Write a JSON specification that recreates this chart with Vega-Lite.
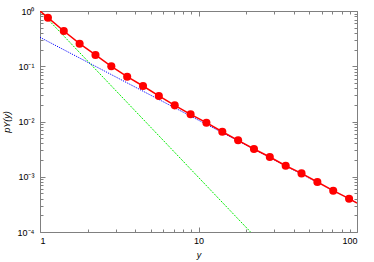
{
  "$schema": "https://vega.github.io/schema/vega-lite/v6.json",
  "width": 317,
  "height": 221,
  "autosize": "none",
  "padding": {"left": 40, "top": 11, "right": 17, "bottom": 30},
  "config": {
    "view": {"stroke": "#808080", "strokeWidth": 1},
    "axis": {"grid": false, "domain": false, "tickColor": "#808080", "labelFont": "Liberation Sans", "labelFontSize": 9, "labelColor": "#000000", "titleFont": "Liberation Sans", "titleFontSize": 9, "titleFontWeight": "normal", "titleFontStyle": "italic", "titleColor": "#000000"}
  },
  "datasets": {
    "pts": [
      {"y": 1.122, "p": 0.757}, {"y": 1.413, "p": 0.435}, {"y": 1.778, "p": 0.256}, {"y": 2.239, "p": 0.160},
      {"y": 2.818, "p": 0.0998}, {"y": 3.548, "p": 0.0647}, {"y": 4.467, "p": 0.0439}, {"y": 5.623, "p": 0.0290},
      {"y": 7.079, "p": 0.0196}, {"y": 8.913, "p": 0.0135}, {"y": 11.22, "p": 0.00951}, {"y": 14.13, "p": 0.00653},
      {"y": 17.78, "p": 0.00456}, {"y": 22.39, "p": 0.00318}, {"y": 28.18, "p": 0.00228}, {"y": 35.48, "p": 0.00158},
      {"y": 44.67, "p": 0.00115}, {"y": 56.23, "p": 0.000803}, {"y": 70.79, "p": 0.000560}, {"y": 89.13, "p": 0.000401}
    ],
    "curve": [
      {"y": 1, "p": 1}, {"y": 1.122, "p": 0.757}, {"y": 1.413, "p": 0.435}, {"y": 1.778, "p": 0.256}, {"y": 2.239, "p": 0.160},
      {"y": 2.818, "p": 0.0998}, {"y": 3.548, "p": 0.0647}, {"y": 4.467, "p": 0.0439}, {"y": 5.623, "p": 0.0290},
      {"y": 7.079, "p": 0.0196}, {"y": 8.913, "p": 0.0135}, {"y": 11.22, "p": 0.00951}, {"y": 14.13, "p": 0.00653},
      {"y": 17.78, "p": 0.00456}, {"y": 22.39, "p": 0.00318}, {"y": 28.18, "p": 0.00228}, {"y": 35.48, "p": 0.00158},
      {"y": 44.67, "p": 0.00115}, {"y": 56.23, "p": 0.000803}, {"y": 70.79, "p": 0.000560}, {"y": 89.13, "p": 0.000401},
      {"y": 100, "p": 0.000335}
    ],
    "green": [{"y": 1, "p": 1}, {"y": 21.3, "p": 0.0001}],
    "blue": [{"y": 1, "p": 0.334}, {"y": 100, "p": 0.000334}]
  },
  "layer": [
    {
      "data": {"name": "green"},
      "mark": {"type": "line", "color": "#00ee00", "strokeWidth": 1, "strokeDash": [2, 1.2], "clip": true},
      "encoding": {
        "x": {"field": "y", "type": "quantitative", "scale": {"type": "log", "domain": [1, 100], "nice": false},
              "axis": {"orient": "top", "values": [1, 10, 100], "labels": false, "tickSize": -5, "title": null}},
        "y": {"field": "p", "type": "quantitative", "scale": {"type": "log", "domain": [0.0001, 1], "nice": false},
              "axis": {"orient": "right", "values": [0.0001, 0.001, 0.01, 0.1, 1], "labels": false, "tickSize": -5, "title": null}}
      }
    },
    {
      "data": {"name": "blue"},
      "mark": {"type": "line", "color": "#0000ff", "strokeWidth": 1, "strokeDash": [1.2, 1.2], "clip": true},
      "encoding": {
        "x": {"field": "y", "type": "quantitative",
              "axis": {"orient": "top", "values": [2,3,4,5,6,7,8,9,20,30,40,50,60,70,80,90], "labels": false, "tickSize": -3, "title": null}},
        "y": {"field": "p", "type": "quantitative",
              "axis": {"orient": "right", "values": [0.0002,0.0003,0.0004,0.0005,0.0006,0.0007,0.0008,0.0009,0.002,0.003,0.004,0.005,0.006,0.007,0.008,0.009,0.02,0.03,0.04,0.05,0.06,0.07,0.08,0.09,0.2,0.3,0.4,0.5,0.6,0.7,0.8,0.9], "labels": false, "tickSize": -3, "title": null}}
      }
    },
    {
      "data": {"name": "curve"},
      "mark": {"type": "line", "color": "#ff0000", "strokeWidth": 1.5, "clip": true},
      "encoding": {
        "x": {"field": "y", "type": "quantitative",
              "axis": {"orient": "bottom", "values": [1, 10, 100], "tickSize": -5, "labelPadding": 9, "title": "y", "titlePadding": 5}},
        "y": {"field": "p", "type": "quantitative",
              "axis": {"orient": "left", "values": [0.0001, 0.001, 0.01, 0.1, 1], "tickSize": -5, "labelPadding": 11,
                       "labelExpr": "['10⁻⁴','10⁻³','10⁻²','10⁻¹','10⁰'][round(log(datum.value)/LN10)+4]",
                       "title": "pY(y)", "titlePadding": 6}}
      }
    },
    {
      "data": {"name": "pts"},
      "mark": {"type": "circle", "color": "#ff0000", "size": 65, "opacity": 1},
      "encoding": {
        "x": {"field": "y", "type": "quantitative",
              "axis": {"orient": "bottom", "values": [2,3,4,5,6,7,8,9,20,30,40,50,60,70,80,90], "labels": false, "tickSize": -3, "title": null}},
        "y": {"field": "p", "type": "quantitative",
              "axis": {"orient": "left", "values": [0.0002,0.0003,0.0004,0.0005,0.0006,0.0007,0.0008,0.0009,0.002,0.003,0.004,0.005,0.006,0.007,0.008,0.009,0.02,0.03,0.04,0.05,0.06,0.07,0.08,0.09,0.2,0.3,0.4,0.5,0.6,0.7,0.8,0.9], "labels": false, "tickSize": -3, "title": null}}
      }
    }
  ],
  "resolve": {"axis": {"x": "independent", "y": "independent"}}
}
